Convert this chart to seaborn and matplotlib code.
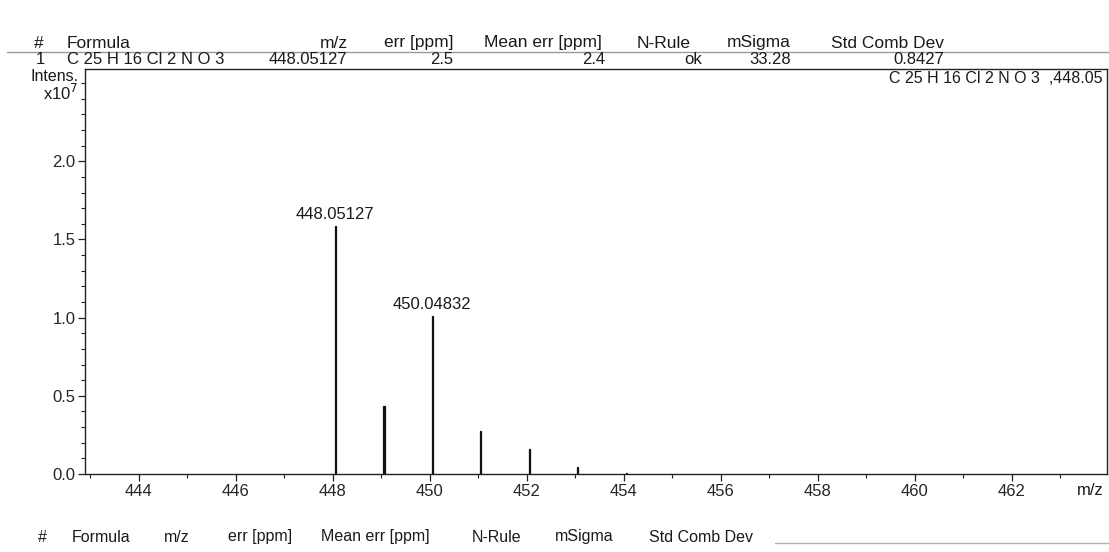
import numpy as np
import pandas as pd
import matplotlib
matplotlib.use("Agg")
import matplotlib.pyplot as plt
from matplotlib.ticker import MultipleLocator, AutoMinorLocator
from matplotlib import font_manager
import seaborn as sns

# isotope pattern (m/z, intensity in 1e7)
peak_mz = [448.05127, 449.0545, 450.04832, 451.0515, 452.0455, 453.048, 454.05]
peak_int = [1.585, 0.435, 1.01, 0.275, 0.16, 0.045, 0.008]
labelled_peaks = ["448.05127", "450.04832"]

# result table
header_cols = ["#", "Formula", "m/z", "err [ppm]", "Mean err [ppm]", "N-Rule", "mSigma", "Std Comb Dev"]
row_values = ["1", "C 25 H 16 Cl 2 N O 3", "448.05127", "2.5", "2.4", "ok", "33.28", "0.8427"]
formula_tag = "C 25 H 16 Cl 2 N O 3  ,448.05"

x_ticks = [444, 446, 448, 450, 452, 454, 456, 458, 460, 462]
y_ticks = [0.0, 0.5, 1.0, 1.5, 2.0]

sns.set_theme(style="ticks")
plt.rcParams["font.family"] = ["Liberation Sans", "DejaVu Sans"]
plt.rcParams["text.color"] = "#1a1a1a"

W, H = 1109, 552
fig = plt.figure(figsize=(W / 100, H / 100), dpi=100)
ax = fig.add_axes([85 / W, 1 - 474 / H, (1107 - 85) / W, (474 - 69) / H])

df = pd.DataFrame({"mz": peak_mz, "intens": peak_int})
sns.barplot(data=df, x="mz", y="intens", native_scale=True, color="#111111",
            width=0.022, linewidth=0.9, edgecolor="#111111", errorbar=None, ax=ax)

for mz, h in zip(peak_mz, peak_int):
    lab = f"{mz:.5f}"
    if lab in labelled_peaks:
        ax.annotate(lab, (mz, h), xytext=(0, 3), textcoords="offset points",
                    ha="center", va="bottom", fontsize=12)

ax.set_xlim(442.89, 463.96)
ax.set_ylim(0, 2.59)
ax.set_xticks(x_ticks)
ax.set_yticks(y_ticks)
ax.set_yticklabels([f"{v:.1f}" for v in y_ticks])
ax.xaxis.set_minor_locator(MultipleLocator(1))
ax.yaxis.set_minor_locator(AutoMinorLocator(5))
ax.tick_params(which="major", length=5, width=0.9, color="#222", labelsize=12, pad=2)
ax.tick_params(which="minor", length=3, width=0.8, color="#222")
ax.set_xlabel("")
ax.set_ylabel("")
for s in ax.spines.values():
    s.set_visible(True)
    s.set_linewidth(1.0)
    s.set_color("#222")

ax.text(0.997, -0.021, "m/z", transform=ax.transAxes, ha="right", va="top", fontsize=12)
ax.text(-0.006, 2.54, "Intens.", transform=ax.get_yaxis_transform(), ha="right", va="center", fontsize=11.5)
ax.text(-0.006, 2.44, "x10$^7$", transform=ax.get_yaxis_transform(), ha="right", va="center", fontsize=12)
ax.text(0.996, 0.995, formula_tag, transform=ax.transAxes, ha="right", va="top", fontsize=11.5)

# top table
head_x = [34, 67, 348, 453, 602, 691, 791, 944]
head_ha = ["left", "left", "right", "right", "right", "right", "right", "right"]
row_x = [45, 67, 347, 453, 605, 702, 791, 944]
row_ha = ["right", "left", "right", "right", "right", "right", "right", "right"]
for t, x, ha in zip(header_cols, head_x, head_ha):
    fig.text(x / W, 1 - 43 / H, t, ha=ha, va="center", fontsize=12.5)
for t, x, ha in zip(row_values, row_x, row_ha):
    fig.text(x / W, 1 - 60 / H, t, ha=ha, va="center", fontsize=12)
fig.add_artist(plt.Line2D([7 / W, 1], [1 - 52 / H] * 2, color="#9a9a9a", lw=1.0))

# bottom (empty) table header
names = {f.name for f in font_manager.fontManager.ttflist}
narrow = "Liberation Sans Narrow" in names
bot_x = [38, 72, 164, 228, 321, 472, 555, 649]
for t, x in zip(header_cols, bot_x):
    fig.text(x / W, 1 - 537 / H, t, ha="left", va="center",
             fontsize=13.5 if narrow else 11.5,
             family=["Liberation Sans Narrow", "Liberation Sans"] if narrow else ["Liberation Sans"])
fig.add_artist(plt.Line2D([775 / W, 1], [1 - 543 / H] * 2, color="#b0b0b0", lw=1.0))

fig.savefig("out.png", dpi=100)
